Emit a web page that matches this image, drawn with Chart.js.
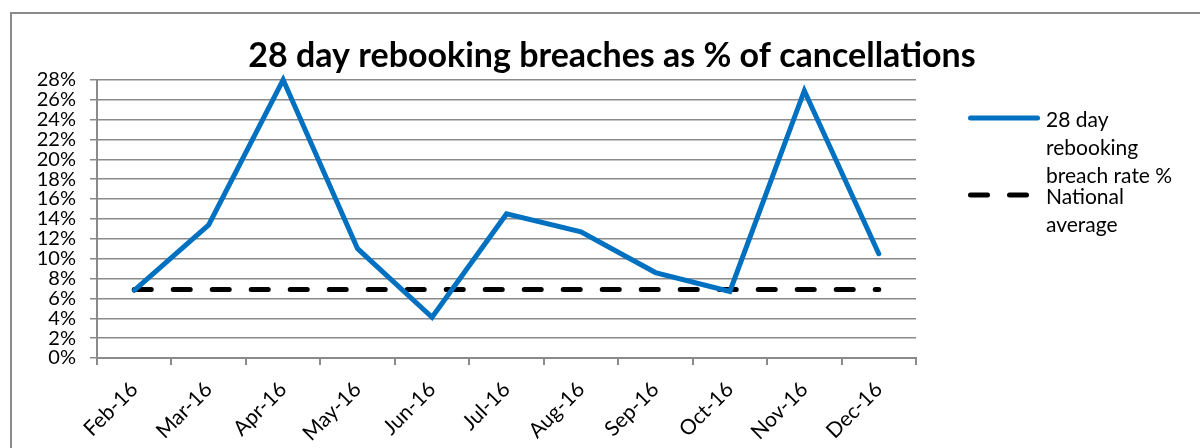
<!DOCTYPE html>
<html>
<head>
<meta charset="utf-8">
<script src="https://cdn.jsdelivr.net/npm/chart.js@4.4.0/dist/chart.umd.min.js"></script>
<style>
    html, body { margin: 0; padding: 0; background: #fff; overflow: hidden; }
    #wrap { position: relative; width: 1200px; height: 448px; }
    #frame { position: absolute; left: 10px; top: 12px; width: 1300px; height: 500px; border: 2px solid #8a8a8a; box-sizing: border-box; pointer-events: none; }
    #chart { position: absolute; left: 0; top: 0; }
</style>
</head>
<body>
<div id="wrap">
    <div id="frame"></div>
    <canvas id="chart" width="1200" height="448"></canvas>
</div>
<script>
// Data
const months = ['Feb-16', 'Mar-16', 'Apr-16', 'May-16', 'Jun-16', 'Jul-16', 'Aug-16', 'Sep-16', 'Oct-16', 'Nov-16', 'Dec-16'];
const breachRate = [6.8, 13.4, 28.0, 11.0, 4.1, 14.5, 12.7, 8.6, 6.7, 26.9, 10.5];
const nationalAverage = [6.9, 6.9, 6.9, 6.9, 6.9, 6.9, 6.9, 6.9, 6.9, 6.9, 6.9];
const yMin = 0;
const yMax = 28;
const yStep = 2;
const seriesNames = ['28 day rebooking breach rate %', 'National average'];
const legendLines = [['28 day', 'rebooking', 'breach rate %'], ['National', 'average']];

Chart.defaults.font.family = 'Lato, "Open Sans", sans-serif';
Chart.defaults.color = '#000';

const gridGrey = '#8a8a8a';

// legend on the right, drawn like the spreadsheet one (wrapped lines)
const sideLegend = {
    id: 'sideLegend',
    afterDraw(chart) {
        const ctx = chart.ctx;
        const x0 = chart.chartArea.right + 52;
        const x1 = x0 + 72;
        const tx = x1 + 6;
        const rows = [118, 195];
        chart.data.datasets.forEach((ds, i) => {
            const y = rows[i];
            ctx.save();
            ctx.strokeStyle = ds.borderColor;
            ctx.lineWidth = ds.borderWidth;
            ctx.lineCap = 'round';
            ctx.setLineDash(ds.borderDash || []);
            ctx.beginPath();
            ctx.moveTo(x0 + 2.5, y);
            ctx.lineTo(x1 - 2.5, y);
            ctx.stroke();
            ctx.setLineDash([]);
            ctx.fillStyle = '#000';
            ctx.font = '21px Lato, "Open Sans", sans-serif';
            ctx.textBaseline = 'middle';
            legendLines[i].forEach((t, k) => ctx.fillText(t, tx, y + 2 + k * 28));
            ctx.restore();
        });
    }
};

const ctx = document.getElementById('chart').getContext('2d');
new Chart(ctx, {
    type: 'line',
    data: {
        labels: months,
        datasets: [{
            label: seriesNames[0],
            data: breachRate,
            borderColor: '#0070C0',
            borderWidth: 5,
            borderJoinStyle: 'miter',
            borderCapStyle: 'round',
            pointRadius: 0,
            tension: 0,
            fill: false,
            clip: false
        }, {
            label: seriesNames[1],
            data: nationalAverage,
            borderColor: '#000',
            borderWidth: 5,
            borderDash: [17, 22],
            borderCapStyle: 'round',
            pointRadius: 0,
            tension: 0,
            fill: false,
            clip: false
        }]
    },
    options: {
        responsive: false,
        animation: false,
        events: [],
        layout: {
            padding: { left: 24, right: 0, top: 0, bottom: 0 }
        },
        scales: {
            x: {
                type: 'category',
                offset: true,
                grid: {
                    offset: true,
                    drawOnChartArea: false,
                    color: gridGrey,
                    lineWidth: 2,
                    tickLength: 7
                },
                border: { color: gridGrey, width: 2 },
                ticks: {
                    autoSkip: false,
                    minRotation: 45,
                    maxRotation: 45,
                    padding: 12,
                    font: { size: 21 }
                },
                afterFit(scale) { scale.height = 90; }
            },
            y: {
                min: yMin,
                max: yMax,
                grid: {
                    color: gridGrey,
                    lineWidth: 1.5,
                    tickLength: 7
                },
                border: { color: gridGrey, width: 2 },
                ticks: {
                    stepSize: yStep,
                    autoSkip: false,
                    padding: 14,
                    font: { size: 20 },
                    callback: v => v + '%'
                },
                afterFit(scale) { scale.width = 73; }
            },
            // empty scale that keeps room for the legend on the right
            side: {
                position: 'right',
                display: true,
                grid: { display: false },
                border: { display: false },
                ticks: { display: false },
                afterFit(scale) { scale.width = 284; }
            }
        },
        plugins: {
            legend: { display: false },
            tooltip: { enabled: false },
            title: {
                display: true,
                text: '28 day rebooking breaches as % of cancellations',
                font: { size: 34, weight: 'bold' },
                color: '#000',
                padding: { top: 36, bottom: 3 }
            }
        }
    },
    plugins: [sideLegend]
});
</script>
</body>
</html>
